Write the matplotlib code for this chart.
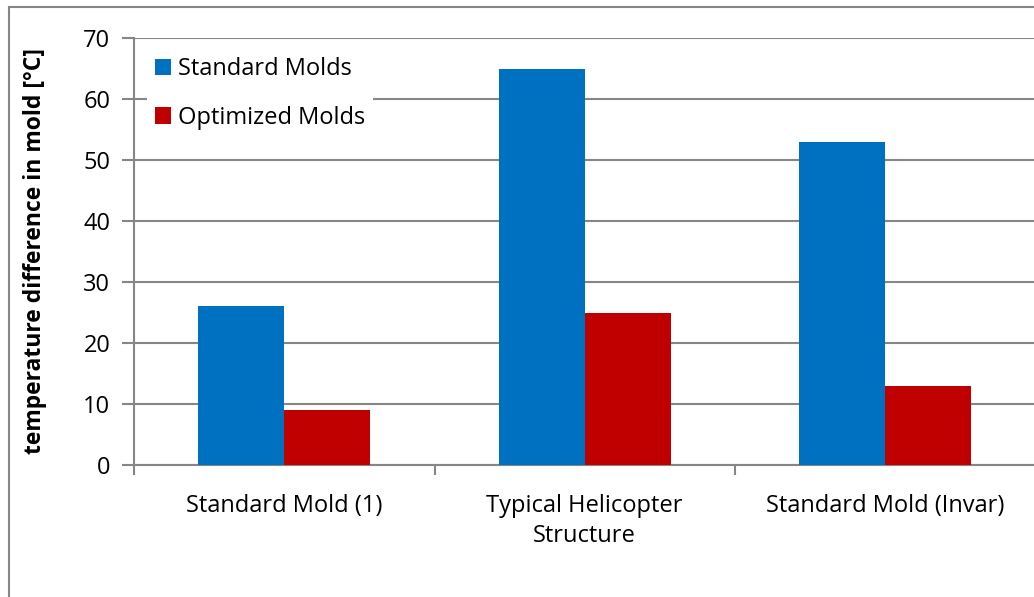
import matplotlib.pyplot as plt
import numpy as np
from matplotlib.patches import Rectangle

categories = ["Standard Mold (1)", "Typical Helicopter\nStructure", "Standard Mold (Invar)"]
standard = [26, 65, 53]
optimized = [9, 25, 13]
yticks = [0, 10, 20, 30, 40, 50, 60, 70]

plt.rcParams["font.family"] = ["Open Sans", "DejaVu Sans"]
W, H = 1034, 597
fig = plt.figure(figsize=(W / 100, H / 100), dpi=100)

# outer chart frame (runs off the right and bottom edges)
fig.patches.append(Rectangle((8.5 / W, -0.1), 1.2, 1 - 6.5 / H + 0.1,
                             transform=fig.transFigure, fill=False,
                             ec="#868686", lw=1.5))

left, right = 134 / W, 1035.5 / W
bottom, top = 1 - 465 / H, 1 - 38 / H
ax = fig.add_axes([left, bottom, right - left, top - bottom])

grid_c = "#868686"
x = np.arange(len(categories))
bw = 1 / 3.5
ax.bar(x - bw / 2, standard, bw, color="#0070C0", label="Standard Molds", zorder=3)
ax.bar(x + bw / 2, optimized, bw, color="#C00000", label="Optimized Molds", zorder=3)

ax.set_xlim(-0.5, len(categories) - 0.5)
ax.set_ylim(0, 70)
ax.set_yticks(yticks)
ax.set_xticks(x)
ax.set_xticklabels(categories, fontsize=17, linespacing=1.35)
ax.set_xticks(np.arange(len(categories) + 1) - 0.5, minor=True)
ax.tick_params(axis="x", which="major", length=0, pad=21)
ax.tick_params(axis="x", which="minor", length=7, color=grid_c, width=1.5)
ax.tick_params(axis="y", length=9, color=grid_c, width=1.5, labelsize=17, pad=8)
ax.yaxis.grid(True, color=grid_c, lw=1.5, zorder=0)
ax.set_axisbelow(True)
for s in ["top", "right"]:
    ax.spines[s].set_visible(False)
for s in ["left", "bottom"]:
    ax.spines[s].set_color(grid_c)
    ax.spines[s].set_linewidth(1.5)

ax.set_ylabel("temperature difference in mold [°C]", fontsize=16.5, fontweight="bold")
ax.yaxis.set_label_coords(-0.0965, 0.5)

leg = ax.legend(loc="upper left", bbox_to_anchor=(0.0015, 1.0), fontsize=17,
                frameon=True, fancybox=False, edgecolor="white", framealpha=1,
                handlelength=0.7, handleheight=0.7, handletextpad=0.3,
                labelspacing=1.03, borderpad=0.32)
leg.get_frame().set_linewidth(0)

fig.savefig("out.png", dpi=100)
